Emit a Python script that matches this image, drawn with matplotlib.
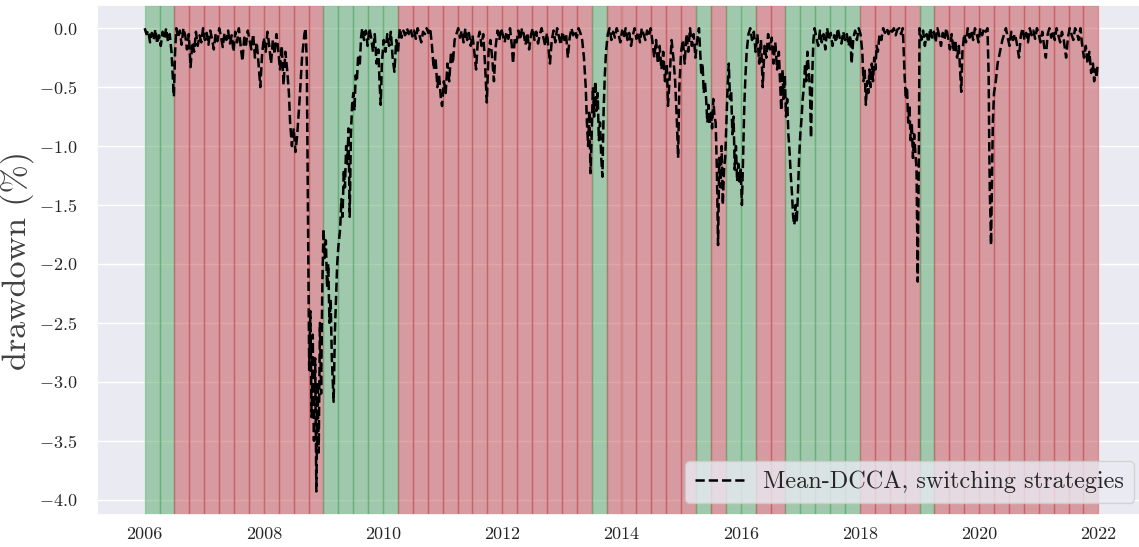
import numpy as np
import matplotlib
matplotlib.use("Agg")
import matplotlib.pyplot as plt
import seaborn as sns

sns.set_theme(style="darkgrid")
plt.rcParams['font.family'] = 'serif'
plt.rcParams['font.serif'] = ['cmr10', 'DejaVu Serif']
plt.rcParams['mathtext.fontset'] = 'cm'
plt.rcParams['axes.formatter.use_mathtext'] = True

# quarterly regime, one letter per quarter from 2006Q1 to 2021Q4 (G = green, R = red)
regimes = ("GGRR" "RRRR" "RRRR" "GGGG" "GRRR" "RRRR" "RRRR" "RRGR"
           "RRRR" "RGRG" "GRRG" "GGGG" "RRRR" "GRRR" "RRRR" "RRRR")
first_year = 2006

# drawdown of the strategy, (decimal year, %)
t_2006 = [2006.00, 2006.03, 2006.06, 2006.09, 2006.12, 2006.15, 2006.18, 2006.21, 2006.24, 2006.27,
          2006.30, 2006.33, 2006.36, 2006.39, 2006.42, 2006.45, 2006.47, 2006.49, 2006.51, 2006.53,
          2006.56, 2006.59, 2006.62, 2006.65, 2006.68, 2006.71, 2006.74, 2006.77, 2006.80, 2006.83,
          2006.86, 2006.89, 2006.92, 2006.95, 2006.98]
dd_2006 = [0.0, -0.05, -0.02, -0.12, -0.04, -0.1, -0.01, -0.13, -0.06, -0.15,
           -0.03, -0.09, 0.0, -0.11, -0.05, -0.2, -0.4, -0.58, -0.2, 0.0,
           -0.08, -0.02, -0.14, 0.0, -0.06, -0.18, -0.05, -0.33, -0.12, -0.2,
           -0.03, -0.15, -0.06, -0.12, 0.0]

t_2007 = [2007.01, 2007.04, 2007.07, 2007.10, 2007.13, 2007.16, 2007.19, 2007.22, 2007.25, 2007.28,
          2007.31, 2007.34, 2007.37, 2007.40, 2007.43, 2007.46, 2007.49, 2007.52, 2007.55, 2007.58,
          2007.61, 2007.64, 2007.67, 2007.70, 2007.73, 2007.76, 2007.79, 2007.82, 2007.85, 2007.88,
          2007.91, 2007.94, 2007.97]
dd_2007 = [-0.1, -0.04, -0.14, -0.02, -0.09, -0.18, -0.05, -0.11, 0.0, -0.07,
           -0.16, -0.04, -0.1, -0.02, -0.13, -0.06, -0.2, -0.03, -0.12, 0.0,
           -0.15, -0.28, -0.08, -0.14, -0.02, -0.1, -0.18, -0.05, -0.25, -0.12,
           -0.3, -0.5, -0.22]

t_2008 = [2008.00, 2008.03, 2008.06, 2008.09, 2008.12, 2008.15, 2008.18, 2008.21, 2008.24, 2008.27,
          2008.30, 2008.33, 2008.36, 2008.39, 2008.42, 2008.44, 2008.47, 2008.50, 2008.53, 2008.56,
          2008.60, 2008.64, 2008.68, 2008.70, 2008.72, 2008.74, 2008.76, 2008.78, 2008.80, 2008.82,
          2008.84, 2008.86, 2008.88, 2008.90, 2008.92, 2008.94, 2008.96, 2008.98]
dd_2008 = [-0.08, -0.2, -0.03, -0.15, -0.3, -0.1, -0.22, -0.05, -0.18, -0.35,
           -0.15, -0.48, -0.2, -0.35, -0.55, -0.8, -1.0, -0.85, -1.05, -0.9,
           -0.6, -0.25, -0.05, 0.0, -0.3, -1.6, -2.9, -2.4, -3.3, -2.6,
           -3.5, -2.8, -3.93, -3.0, -3.6, -2.5, -3.1, -2.2]

t_2009 = [2009.00, 2009.02, 2009.04, 2009.06, 2009.08, 2009.10, 2009.12, 2009.14, 2009.17, 2009.19,
          2009.21, 2009.23, 2009.25, 2009.28, 2009.30, 2009.32, 2009.34, 2009.36, 2009.38, 2009.40,
          2009.42, 2009.44, 2009.46, 2009.48, 2009.50, 2009.52, 2009.54, 2009.56, 2009.58, 2009.61,
          2009.63, 2009.65, 2009.68, 2009.71, 2009.74, 2009.77, 2009.80, 2009.83, 2009.86, 2009.89,
          2009.92, 2009.94, 2009.96, 2009.98]
dd_2009 = [-1.7, -1.95, -1.8, -2.2, -2.0, -2.5, -2.3, -2.8, -3.17, -2.6,
           -2.3, -2.0, -1.85, -1.7, -1.45, -1.6, -1.2, -1.35, -1.0, -1.15,
           -0.85, -1.6, -0.9, -0.65, -0.55, -0.7, -0.4, -0.45, -0.25, -0.3,
           -0.08, 0.0, -0.1, -0.02, -0.15, 0.0, -0.08, -0.2, -0.05, -0.3,
           -0.18, -0.45, -0.65, -0.3]

t_2010 = [2010.01, 2010.04, 2010.07, 2010.10, 2010.13, 2010.16, 2010.19, 2010.22, 2010.25, 2010.28,
          2010.31, 2010.34, 2010.37, 2010.40, 2010.43, 2010.46, 2010.49, 2010.52, 2010.55, 2010.58,
          2010.61, 2010.64, 2010.67, 2010.70, 2010.73, 2010.76, 2010.79, 2010.82, 2010.85, 2010.88,
          2010.91, 2010.94, 2010.97, 2010.99]
dd_2010 = [-0.1, -0.2, -0.05, -0.15, -0.03, -0.25, -0.37, -0.1, -0.2, 0.0,
           -0.08, -0.02, -0.06, 0.0, -0.05, 0.0, -0.07, -0.02, -0.09, 0.0,
           -0.06, -0.12, -0.03, -0.05, 0.0, -0.04, 0.0, -0.15, -0.35, -0.25,
           -0.5, -0.4, -0.6, -0.66]

t_2011 = [2011.02, 2011.05, 2011.08, 2011.11, 2011.14, 2011.17, 2011.20, 2011.23, 2011.26, 2011.29,
          2011.32, 2011.35, 2011.38, 2011.41, 2011.44, 2011.47, 2011.50, 2011.53, 2011.56, 2011.59,
          2011.62, 2011.65, 2011.68, 2011.71, 2011.74, 2011.77, 2011.80, 2011.83, 2011.86, 2011.89,
          2011.92, 2011.95, 2011.98]
dd_2011 = [-0.45, -0.55, -0.3, -0.45, -0.2, -0.3, -0.1, -0.05, 0.0, -0.08,
           -0.02, -0.12, 0.0, -0.1, -0.04, -0.15, -0.06, -0.2, -0.35, -0.1,
           -0.03, -0.15, -0.05, -0.3, -0.63, -0.2, -0.1, -0.25, -0.45, -0.15,
           -0.02, -0.1, 0.0]

t_2012 = [2012.01, 2012.04, 2012.07, 2012.10, 2012.13, 2012.16, 2012.18, 2012.21, 2012.24, 2012.27,
          2012.30, 2012.33, 2012.36, 2012.39, 2012.42, 2012.45, 2012.48, 2012.51, 2012.54, 2012.57,
          2012.60, 2012.63, 2012.66, 2012.69, 2012.72, 2012.75, 2012.78, 2012.80, 2012.83, 2012.86,
          2012.89, 2012.92, 2012.95, 2012.98]
dd_2012 = [-0.06, -0.12, -0.03, -0.09, 0.0, -0.15, -0.3, -0.08, -0.12, -0.02,
           -0.1, 0.0, -0.05, -0.14, -0.04, -0.18, -0.06, 0.0, -0.1, -0.03,
           -0.13, -0.05, 0.0, -0.08, -0.15, -0.04, -0.2, -0.3, -0.1, -0.02,
           -0.12, 0.0, -0.07, -0.14]

t_2013 = [2013.01, 2013.04, 2013.07, 2013.10, 2013.13, 2013.16, 2013.19, 2013.22, 2013.25, 2013.28,
          2013.31, 2013.34, 2013.37, 2013.40, 2013.42, 2013.44, 2013.46, 2013.48, 2013.50, 2013.52,
          2013.54, 2013.56, 2013.58, 2013.60, 2013.62, 2013.64, 2013.66, 2013.68, 2013.70, 2013.72,
          2013.74, 2013.77, 2013.80, 2013.83, 2013.86, 2013.89, 2013.92, 2013.95, 2013.98]
dd_2013 = [-0.03, -0.1, -0.05, -0.25, -0.08, 0.0, -0.06, -0.02, -0.08, 0.0,
           -0.04, -0.1, -0.25, -0.5, -0.8, -1.0, -0.7, -1.23, -0.9, -0.5,
           -0.75, -0.45, -0.7, -0.55, -0.95, -0.8, -1.1, -1.26, -0.7, -0.4,
           -0.2, -0.05, 0.0, -0.1, -0.03, -0.08, 0.0, -0.05, -0.12]

t_2014 = [2014.01, 2014.04, 2014.07, 2014.10, 2014.13, 2014.16, 2014.19, 2014.22, 2014.25, 2014.28,
          2014.31, 2014.34, 2014.37, 2014.40, 2014.43, 2014.46, 2014.49, 2014.52, 2014.55, 2014.58,
          2014.61, 2014.64, 2014.67, 2014.70, 2014.73, 2014.76, 2014.78, 2014.81, 2014.84, 2014.87,
          2014.90, 2014.93, 2014.95, 2014.97]
dd_2014 = [-0.02, -0.08, 0.0, -0.1, -0.04, -0.15, -0.06, 0.0, -0.09, -0.03,
           -0.12, 0.0, -0.05, -0.1, -0.02, -0.07, 0.0, -0.12, -0.25, -0.1,
           -0.3, -0.15, -0.35, -0.2, -0.45, -0.3, -0.66, -0.4, -0.1, -0.25,
           -0.45, -0.8, -1.1, -0.5]

t_2015 = [2015.00, 2015.03, 2015.06, 2015.09, 2015.12, 2015.15, 2015.18, 2015.21, 2015.24, 2015.27,
          2015.30, 2015.32, 2015.34, 2015.36, 2015.38, 2015.40, 2015.42, 2015.44, 2015.46, 2015.48,
          2015.50, 2015.52, 2015.54, 2015.56, 2015.58, 2015.60, 2015.62, 2015.64, 2015.66, 2015.68,
          2015.70, 2015.72, 2015.74, 2015.76, 2015.78, 2015.80, 2015.82, 2015.84, 2015.86, 2015.88,
          2015.90, 2015.92, 2015.94, 2015.96, 2015.98]
dd_2015 = [-0.2, -0.1, -0.3, -0.05, -0.2, 0.0, -0.15, -0.05, -0.25, -0.1,
           0.0, -0.2, -0.4, -0.3, -0.55, -0.45, -0.6, -0.8, -0.65, -0.82,
           -0.7, -0.85, -0.6, -0.75, -0.8, -1.2, -1.84, -1.1, -1.35, -1.0,
           -1.5, -1.2, -1.1, -0.8, -0.5, -0.3, -0.6, -0.53, -0.9, -0.75,
           -1.2, -1.0, -1.3, -1.15, -1.3]

t_2016 = [2016.00, 2016.02, 2016.04, 2016.06, 2016.08, 2016.10, 2016.13, 2016.16, 2016.19, 2016.22,
          2016.25, 2016.28, 2016.31, 2016.34, 2016.37, 2016.40, 2016.43, 2016.46, 2016.49, 2016.52,
          2016.55, 2016.58, 2016.61, 2016.64, 2016.66, 2016.68, 2016.70, 2016.72, 2016.74, 2016.76,
          2016.78, 2016.80, 2016.82, 2016.84, 2016.86, 2016.88, 2016.90, 2016.92, 2016.94, 2016.96,
          2016.98]
dd_2016 = [-1.2, -1.5, -1.1, -0.66, -0.4, -0.2, -0.05, 0.0, -0.1, -0.03,
           -0.2, -0.05, -0.3, -0.1, -0.5, -0.15, -0.25, -0.05, -0.18, -0.08,
           -0.3, -0.12, -0.35, -0.2, -0.45, -0.7, -0.35, -0.6, -0.4, -0.75,
           -0.6, -0.9, -1.05, -1.25, -1.4, -1.6, -1.67, -1.5, -1.65, -1.4,
           -1.1]

t_2017 = [2017.00, 2017.02, 2017.04, 2017.06, 2017.08, 2017.10, 2017.12, 2017.14, 2017.16, 2017.18,
          2017.20, 2017.22, 2017.24, 2017.27, 2017.30, 2017.33, 2017.36, 2017.39, 2017.42, 2017.45,
          2017.48, 2017.51, 2017.54, 2017.57, 2017.60, 2017.63, 2017.66, 2017.69, 2017.72, 2017.75,
          2017.78, 2017.81, 2017.84, 2017.86, 2017.89, 2017.92, 2017.95, 2017.98]
dd_2017 = [-0.9, -0.77, -0.6, -0.5, -0.3, -0.45, -0.2, -0.35, -0.5, -0.93,
           -0.4, -0.1, 0.0, -0.08, -0.15, -0.02, -0.12, -0.05, -0.18, 0.0,
           -0.1, -0.04, -0.15, -0.06, -0.12, 0.0, -0.08, -0.13, -0.03, -0.1,
           -0.05, -0.15, -0.06, -0.3, -0.08, -0.02, -0.1, 0.0]

t_2018 = [2018.01, 2018.04, 2018.06, 2018.08, 2018.10, 2018.12, 2018.14, 2018.16, 2018.18, 2018.20,
          2018.22, 2018.24, 2018.26, 2018.28, 2018.30, 2018.33, 2018.36, 2018.39, 2018.42, 2018.45,
          2018.48, 2018.51, 2018.54, 2018.57, 2018.60, 2018.63, 2018.66, 2018.69, 2018.72, 2018.75,
          2018.77, 2018.79, 2018.81, 2018.83, 2018.85, 2018.87, 2018.89, 2018.91, 2018.93, 2018.95,
          2018.97, 2018.99]
dd_2018 = [-0.05, -0.2, -0.45, -0.35, -0.65, -0.45, -0.55, -0.35, -0.5, -0.3,
           -0.45, -0.25, -0.35, -0.15, -0.2, -0.05, -0.1, 0.0, -0.04, 0.0,
           -0.05, 0.0, -0.03, 0.0, -0.06, -0.01, 0.0, -0.05, 0.0, -0.4,
           -0.6, -0.5, -0.8, -0.65, -0.95, -0.8, -1.1, -0.9, -1.05, -1.2,
           -2.15, -1.0]

t_2019 = [2019.00, 2019.03, 2019.06, 2019.09, 2019.12, 2019.15, 2019.18, 2019.21, 2019.24, 2019.27,
          2019.30, 2019.33, 2019.36, 2019.39, 2019.42, 2019.45, 2019.48, 2019.51, 2019.54, 2019.57,
          2019.60, 2019.63, 2019.66, 2019.68, 2019.70, 2019.72, 2019.75, 2019.78, 2019.81, 2019.84,
          2019.87, 2019.90, 2019.93, 2019.96, 2019.99]
dd_2019 = [0.0, -0.1, -0.02, -0.15, -0.05, -0.12, 0.0, -0.08, -0.03, -0.12,
           0.0, -0.06, -0.15, -0.04, -0.1, 0.0, -0.08, -0.18, -0.05, -0.2,
           -0.1, -0.25, -0.15, -0.35, -0.54, -0.2, -0.05, -0.12, 0.0, -0.08,
           -0.02, -0.1, 0.0, -0.05, -0.12]

t_2020 = [2020.02, 2020.05, 2020.08, 2020.11, 2020.14, 2020.16, 2020.17, 2020.18, 2020.19, 2020.20,
          2020.21, 2020.22, 2020.23, 2020.25, 2020.28, 2020.31, 2020.35, 2020.39, 2020.42, 2020.45,
          2020.48, 2020.51, 2020.54, 2020.57, 2020.60, 2020.63, 2020.67, 2020.70, 2020.73, 2020.76,
          2020.79, 2020.82, 2020.85, 2020.88, 2020.91, 2020.94, 2020.97]
dd_2020 = [0.0, -0.06, 0.0, -0.03, 0.0, -0.4, -1.0, -1.4, -1.6, -1.84,
           -1.5, -1.1, -0.8, -0.55, -0.45, -0.3, -0.2, -0.1, -0.05, 0.0,
           -0.08, -0.15, -0.03, -0.1, -0.05, -0.12, -0.25, -0.06, 0.0, -0.1,
           -0.04, -0.12, 0.0, -0.06, -0.02, -0.09, 0.0]

t_2021 = [2021.00, 2021.03, 2021.06, 2021.09, 2021.12, 2021.15, 2021.18, 2021.21, 2021.24, 2021.27,
          2021.30, 2021.33, 2021.36, 2021.39, 2021.42, 2021.46, 2021.49, 2021.52, 2021.55, 2021.58,
          2021.61, 2021.64, 2021.67, 2021.70, 2021.73, 2021.76, 2021.79, 2021.82, 2021.85, 2021.88,
          2021.91, 2021.93, 2021.95, 2021.97, 2021.99]
dd_2021 = [-0.05, -0.12, -0.03, -0.15, -0.25, -0.05, 0.0, -0.08, -0.02, -0.1,
           0.0, -0.06, -0.12, -0.03, -0.1, -0.25, -0.08, 0.0, -0.05, -0.1,
           0.0, -0.04, -0.1, 0.0, -0.15, -0.25, -0.15, -0.3, -0.2, -0.38,
           -0.3, -0.45, -0.35, -0.42, -0.3]

t = (t_2006 + t_2007 + t_2008 + t_2009 + t_2010 + t_2011 + t_2012 + t_2013 +
     t_2014 + t_2015 + t_2016 + t_2017 + t_2018 + t_2019 + t_2020 + t_2021)
dd = (dd_2006 + dd_2007 + dd_2008 + dd_2009 + dd_2010 + dd_2011 + dd_2012 + dd_2013 +
      dd_2014 + dd_2015 + dd_2016 + dd_2017 + dd_2018 + dd_2019 + dd_2020 + dd_2021)

fig = plt.figure(figsize=(11.39, 5.47), dpi=100)
ax = fig.add_axes([97 / 1139, 32 / 547, 1049 / 1139, 510 / 547])

colors = {'G': '#55a868', 'R': '#c44e52'}
for i, r in enumerate(regimes):
    q0 = first_year + i / 4
    ax.axvspan(q0, q0 + 0.25, facecolor=colors[r], edgecolor=colors[r], alpha=0.5, lw=1)

ax.plot(t, dd, color='black', ls='--', lw=1.8, label='Mean-DCCA, switching strategies')

ax.set_xlim(2005.2, 2022.8)
ax.set_ylim(-4.13, 0.197)
ax.set_xticks(np.arange(2006, 2023, 2))
ax.set_xticklabels([str(y) for y in range(2006, 2023, 2)])
ax.set_yticks(np.arange(-4.0, 0.01, 0.5))
ax.tick_params(axis='x', labelsize=13, pad=2.5)
ax.tick_params(axis='y', labelsize=13, pad=8)
ax.set_ylabel('drawdown (%)', fontsize=24.5, color='0.25')
ax.legend(loc='lower right', fontsize=17.5)

fig.savefig('out.png', dpi=100)
